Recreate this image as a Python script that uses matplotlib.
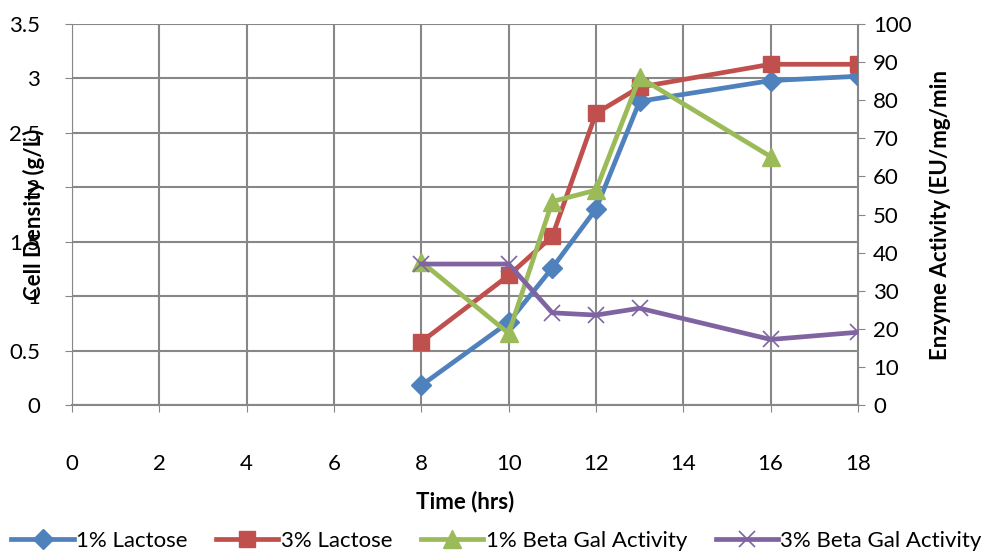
import matplotlib
matplotlib.use("Agg")
import matplotlib.pyplot as plt

plt.rcParams['font.family'] = ['Lato', 'DejaVu Sans']

# time points (hrs)
hours = [8, 10, 11, 12, 13, 16, 18]
hours_gal1 = [8, 10, 11, 12, 13, 16]

# cell density (g/L)
lactose_1 = [0.18, 0.76, 1.26, 1.80, 2.79, 2.98, 3.02]
lactose_3 = [0.58, 1.19, 1.55, 2.68, 2.92, 3.13, 3.13]

# enzyme activity (EU/mg/min)
gal_1 = [37.6, 18.8, 53.4, 56.4, 86.0, 65.2]
gal_3 = [37.0, 37.0, 24.2, 23.6, 25.4, 17.2, 19.1]

BLUE = '#4F81BD'
RED = '#C0504D'
GREEN = '#9BBB59'
PURPLE = '#8064A2'
GRID = '#878787'
FS = 16

fig = plt.figure(figsize=(9.93, 5.52), dpi=100)
ax = fig.add_axes([0.0725, 0.2663, 0.7915, 0.6902])
ax2 = ax.twinx()

l1, = ax.plot(hours, lactose_1, color=BLUE, lw=3.4, marker='D', ms=10,
              label='1% Lactose', zorder=3)
l2, = ax.plot(hours, lactose_3, color=RED, lw=3.4, marker='s', ms=12,
              label='3% Lactose', zorder=3)
l3, = ax2.plot(hours_gal1, gal_1, color=GREEN, lw=3.4, marker='^', ms=13,
               label='1% Beta Gal Activity', zorder=3)
l4, = ax2.plot(hours, gal_3, color=PURPLE, lw=3.4, marker='x', ms=12, mew=1.2,
               label='3% Beta Gal Activity', zorder=3)

ax.set_xlim(0, 18)
ax.set_ylim(0, 3.5)
ax2.set_ylim(0, 100)
ax.set_xticks(range(0, 19, 2))
ax.set_yticks([0, 0.5, 1, 1.5, 2, 2.5, 3, 3.5])
ax.set_yticklabels(['0', '0.5', '1', '1.5', '2', '2.5', '3', '3.5'])
ax2.set_yticks(range(0, 101, 10))

ax.grid(True, color=GRID, lw=1.5)
ax.set_axisbelow(True)
for a in (ax, ax2):
    for s in a.spines.values():
        s.set_visible(False)
ax.spines['left'].set_visible(True)
ax.spines['left'].set_color(GRID)
ax.spines['bottom'].set_visible(True)
ax.spines['bottom'].set_color(GRID)
ax.spines['bottom'].set_linewidth(1.5)
ax2.spines['right'].set_visible(True)
ax2.spines['right'].set_color(GRID)

ax.tick_params(axis='y', labelsize=FS, color=GRID, length=5, pad=18)
ax.tick_params(axis='x', labelsize=FS, color=GRID, length=5, pad=30)
ax2.tick_params(axis='y', labelsize=FS, color=GRID, length=5, pad=6)

ax.set_xlabel('Time (hrs)', fontsize=FS, fontweight='bold', labelpad=12)
ax.set_ylabel('Cell Density (g/L)', fontsize=FS, fontweight='bold', labelpad=-26)
ax2.set_ylabel('Enzyme Activity (EU/mg/min', fontsize=FS, fontweight='bold',
               labelpad=12)

fig.legend(handles=[l1, l2, l3, l4], loc='center', bbox_to_anchor=(0.5, 0.02),
           ncol=4, frameon=False, fontsize=FS, handlelength=2.8,
           columnspacing=1.3, handletextpad=0.1, borderaxespad=0)

fig.savefig('out.png', dpi=100)
